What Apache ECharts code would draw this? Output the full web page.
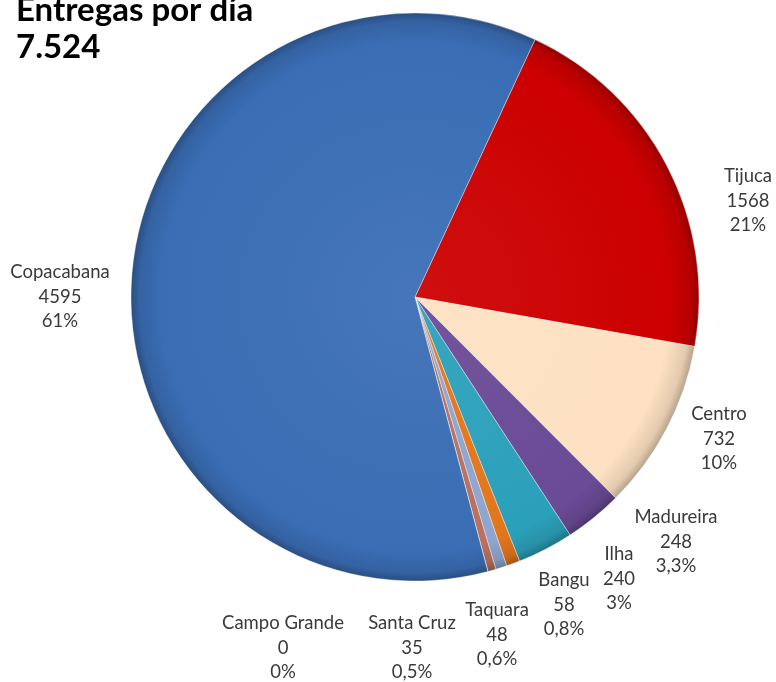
<!DOCTYPE html>
<html>
<head>
<meta charset="utf-8">
<script src="https://cdn.jsdelivr.net/npm/echarts@6/dist/echarts.min.js"></script>
<style>
  html, body { margin: 0; padding: 0; background: #fff; }
  #chart { width: 776px; height: 682px; }
</style>
</head>
<body>
<div id="chart"></div>
<script>
// data, clockwise from the top
var bairros = ['Tijuca', 'Centro', 'Madureira', 'Ilha', 'Bangu', 'Taquara', 'Santa Cruz', 'Campo Grande', 'Copacabana'];
var entregas = [1568, 732, 248, 240, 58, 48, 35, 0, 4595];
var percentuais = ['21%', '10%', '3,3%', '3%', '0,8%', '0,6%', '0,5%', '0%', '61%'];
var total = '7.524';

var cores = ['#cc0000', '#fde1c2', '#6b4a96', '#2ba0ba', '#e2761c', '#8ea6cf', '#b8705f', '#a0a0a0', '#3a6db4'];
// label centers (middle line), as placed in the original
var posLabels = [[748, 201], [719, 439], [676, 542], [619, 579], [564, 605], [497, 635], [412, 648], [283, 648], [60, 297]];

var cx = 415, cy = 297, raio = 284;

function shade(hex, f) {
  var n = parseInt(hex.slice(1), 16);
  var r = (n >> 16) & 255, g = (n >> 8) & 255, b = n & 255;
  function m(c) {
    return Math.max(0, Math.min(255, Math.round(f > 0 ? c + (255 - c) * f : c * (1 + f))));
  }
  return 'rgb(' + m(r) + ',' + m(g) + ',' + m(b) + ')';
}

var dados = bairros.map(function(nome, i) {
  return {
    name: nome,
    value: entregas[i],
    itemStyle: {
      color: {
        type: 'radial', x: cx, y: cy, r: raio, global: true,
        colorStops: [
          { offset: 0, color: shade(cores[i], 0.06) },
          { offset: 0.9, color: cores[i] },
          { offset: 0.97, color: shade(cores[i], -0.1) },
          { offset: 1, color: shade(cores[i], -0.28) }
        ]
      }
    }
  };
});

var chart = echarts.init(document.getElementById('chart'));
chart.setOption({
  backgroundColor: '#fff',
  animation: false,
  title: {
    text: 'Entregas por día\n' + total,
    left: 11,
    top: -13,
    textStyle: {
      fontFamily: 'Lato',
      fontWeight: 'bold',
      fontSize: 33,
      lineHeight: 37,
      color: '#000'
    }
  },
  series: [{
    type: 'pie',
    center: [cx, cy],
    radius: [0, raio],
    startAngle: 65,
    clockwise: true,
    minAngle: 0,
    avoidLabelOverlap: false,
    data: dados,
    itemStyle: {
      borderColor: 'rgba(255,255,255,0.6)',
      borderWidth: 0.6
    },
    label: {
      show: true,
      position: 'outside',
      formatter: function(p) {
        return p.name + '\n' + p.value + '\n' + percentuais[p.dataIndex];
      },
      fontFamily: 'Lato',
      fontSize: 18.5,
      lineHeight: 24.5,
      color: '#3a3a3a',
      align: 'center'
    },
    labelLine: { show: false },
    labelLayout: function(p) {
      var pos = posLabels[p.dataIndex];
      return { x: pos[0], y: pos[1], align: 'center', verticalAlign: 'middle' };
    },
    emphasis: { disabled: true }
  }]
});
</script>
</body>
</html>
